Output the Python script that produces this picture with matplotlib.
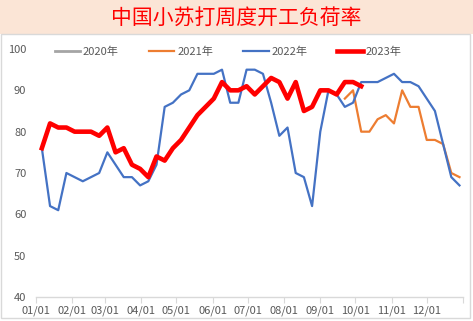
import numpy as np
import matplotlib.pyplot as plt
from matplotlib.patches import Rectangle

plt.rcParams['font.family'] = ['Noto Sans CJK SC', 'DejaVu Sans']

# weekly points, day of year of each week
week_days = [5 + 7 * i for i in range(52)]

y2020 = []
y2021 = [88, 90, 80, 80, 83, 84, 82, 90, 86, 86, 78, 78, 77, 70, 69]   # from week 37
y2022 = [76, 62, 61, 70, 69, 68, 69, 70, 75, 72, 69, 69, 67, 68, 72, 86,
         87, 89, 90, 94, 94, 94, 95, 87, 87, 95, 95, 94, 87, 79, 81, 70,
         69, 62, 80, 90, 89, 86, 87, 92, 92, 92, 93, 94, 92, 92, 91, 88,
         85, 77, 69, 67]
y2023 = [76, 82, 81, 81, 80, 80, 80, 79, 81, 75, 76, 72, 71, 69, 74, 73,
         76, 78, 81, 84, 86, 88, 92, 90, 90, 91, 89, 91, 93, 92, 88, 92,
         85, 86, 90, 90, 89, 92, 92, 91]

month_days = [0, 31, 59, 90, 120, 151, 181, 212, 243, 273, 304, 334]
month_labels = ['01/01', '02/01', '03/01', '04/01', '05/01', '06/01',
                '07/01', '08/01', '09/01', '10/01', '11/01', '12/01']

fig = plt.figure(figsize=(4.73, 3.21), dpi=100)
fig.patches.append(Rectangle((0, 1 - 34 / 321), 1, 34 / 321, transform=fig.transFigure,
                             facecolor='#FBE5D6', edgecolor='none', zorder=-2))
fig.patches.append(Rectangle((0.002, 0.01), 0.992, 1 - 34 / 321 - 0.01, transform=fig.transFigure,
                             facecolor='white', edgecolor='#D9D9D9', linewidth=1, zorder=-1))
fig.text(0.5, 1 - 18 / 321, '中国小苏打周度开工负荷率', ha='center', va='center',
         color='#FF0000', fontsize=15)

ax = fig.add_axes([36 / 473, 1 - 297 / 321, 427 / 473, 248 / 321])
ax.set_facecolor('none')
ax.set_zorder(2)

ax.plot(week_days[:len(y2020)], y2020, color='#A5A5A5', lw=2, label='2020年')
ax.plot(week_days[37:37 + len(y2021)], y2021, color='#ED7D31', lw=1.6, label='2021年')
ax.plot(week_days[:len(y2022)], y2022, color='#4472C4', lw=1.6, label='2022年')
ax.plot(week_days[:len(y2023)], y2023, color='#FF0000', lw=3.3, label='2023年')

ax.set_xlim(0, 365)
ax.set_ylim(40, 100)
ax.set_yticks(range(40, 101, 10))
ax.set_xticks(month_days + [365])
ax.set_xticklabels(month_labels + [''])
ax.tick_params(axis='y', length=0, labelsize=8, colors='#595959', pad=7)
ax.tick_params(axis='x', length=4, width=0.8, color='#D9D9D9', labelsize=8,
               labelcolor='#595959', pad=2)
for s in ['left', 'right', 'top']:
    ax.spines[s].set_visible(False)
ax.spines['bottom'].set_color('#D9D9D9')
ax.spines['bottom'].set_linewidth(1)

ax.legend(loc='upper center', bbox_to_anchor=(0.45, 1.05), ncol=4, frameon=False,
          fontsize=8, handlelength=2.3, handletextpad=0.25, columnspacing=2.7,
          labelcolor='#595959')

fig.savefig('out.png', dpi=100)
